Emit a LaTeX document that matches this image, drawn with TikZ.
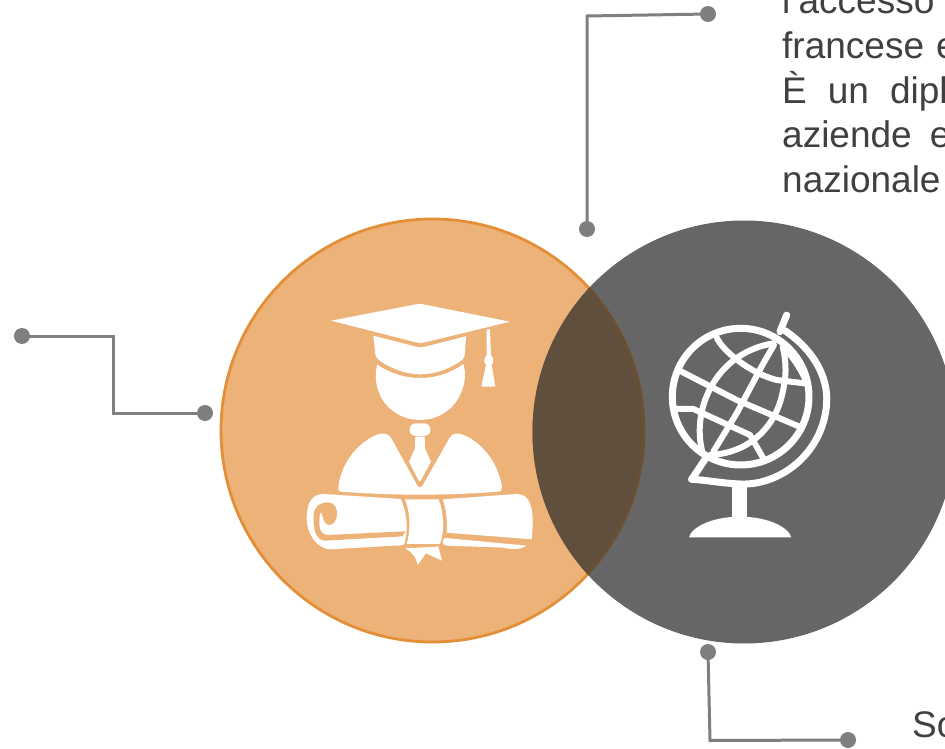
\documentclass[tikz,border=0pt]{standalone}
\usepackage{fontspec}
\setmainfont{Liberation Sans}
\definecolor{orangefill}{HTML}{EDB277}
\definecolor{orangeedge}{HTML}{E38F37}
\definecolor{darkfill}{HTML}{666666}
\definecolor{overlapfill}{HTML}{604F3D}
\definecolor{overlapedge}{HTML}{6C4F30}
\definecolor{connector}{HTML}{7F7F7F}
\definecolor{bodytext}{HTML}{404040}
\tikzset{
  dotnode/.style={circle,fill=connector,draw=none,minimum size=16pt,inner sep=0pt},
  conn/.style={draw=connector,line width=3pt,line join=miter},
  para/.style={anchor=base west,inner sep=0pt,text=bodytext,font=\fontsize{37}{44}\selectfont},
  whitefill/.style={fill=white,draw=none},
  orangecut/.style={fill=orangefill,draw=none},
  globeline/.style={draw=white,line width=6pt,line cap=round,line join=round},
}
\begin{document}
\begin{tikzpicture}[x=1pt,y=-1pt]
\useasboundingbox (0,0) rectangle (945,749);
\clip (0,0) rectangle (945,749);
\fill[white] (0,0) rectangle (945,749);

% circles
\coordinate (oc) at (432.5,430.5);
\coordinate (gc) at (744,432);
\fill[orangefill] (oc) circle (211.5);
\draw[orangeedge,line width=2.8pt] (oc) circle (211.5);
\fill[darkfill] (gc) circle (211.5);
\begin{scope}
  \clip (gc) circle (211.5);
  \fill[overlapfill] (oc) circle (211.5);
  \draw[overlapedge,line width=2.8pt] (oc) circle (211.5);
\end{scope}

% graduate icon
\begin{scope}[shift={(290,290)},x=0.3333pt,y=-0.3333pt]
  % mortarboard
  \fill[whitefill] (123,92) -- (378,43) .. controls (385,41) and (392,41) .. (400,43) -- (660,95) -- (405,157) .. controls (395,160) and (388,160) .. (378,157) -- cycle;
  % cap band
  \fill[whitefill] (250,137) -- (378,170) .. controls (388,173) and (395,173) .. (405,170) -- (528,139) -- (525,190) .. controls (524,205) and (515,212) .. (505,218) .. controls (470,240) and (430,253) .. (390,253) .. controls (345,253) and (305,235) .. (275,216) .. controls (262,208) and (256,200) .. (255,185) -- cycle;
  % head
  \fill[whitefill] (262,224) .. controls (300,250) and (345,264) .. (390,264) .. controls (440,264) and (485,248) .. (520,222) .. controls (530,250) and (525,290) .. (505,325) .. controls (480,368) and (435,390) .. (390,390) .. controls (345,390) and (300,368) .. (275,325) .. controls (258,295) and (252,255) .. (262,224) -- cycle;
  % tassel
  \fill[whitefill] (590,118) -- (600,118) -- (603,196) .. controls (612,205) and (612,215) .. (605,225) -- (616,290) -- (574,290) -- (588,225) .. controls (581,215) and (581,205) .. (590,196) -- cycle;
  % tie
  \fill[whitefill] (378,400) -- (402,400) .. controls (428,400) and (428,438) .. (402,438) -- (378,438) .. controls (352,438) and (352,400) .. (378,400) -- cycle;
  \fill[whitefill] (376,440) -- (404,440) -- (406,478) -- (423,515) -- (392,572) .. controls (390,575) and (388,575) .. (386,572) -- (357,515) -- (374,478) -- cycle;
  % shoulders
  \fill[whitefill] (145,590) .. controls (155,510) and (215,448) .. (268,432) .. controls (285,428) and (297,432) .. (305,447) -- (380,583) .. controls (386,595) and (394,595) .. (400,583) -- (478,445) .. controls (486,432) and (497,428) .. (512,432) .. controls (570,450) and (625,515) .. (636,592) .. controls (637,600) and (632,604) .. (625,605) .. controls (470,617) and (310,617) .. (152,605) .. controls (146,604) and (143,598) .. (145,590) -- cycle;
  % left part of the scroll
  \fill[whitefill] (100,612) -- (332,627) .. controls (352,670) and (355,720) .. (343,762) .. controls (335,768) and (325,767) .. (310,767) -- (125,778) .. controls (85,780) and (50,735) .. (50,685) .. controls (50,640) and (65,612) .. (100,612) -- cycle;
  \fill[orangecut] (338,739) -- (105,752) .. controls (75,750) and (70,715) .. (71,675) .. controls (72,650) and (90,637) .. (115,637) .. controls (135,637) and (143,660) .. (141,675) .. controls (139,695) and (128,705) .. (118,705) .. controls (105,705) and (99,690) .. (96,670) -- (90,670) .. controls (86,700) and (84,735) .. (115,735) -- (346,724) -- cycle;
  % ribbon round the scroll
  \fill[whitefill] (345,628) .. controls (362,670) and (362,725) .. (350,762) -- (450,762) .. controls (464,725) and (462,670) .. (446,628) -- cycle;
  % right part of the scroll
  \fill[whitefill] (458,628) -- (680,612) .. controls (720,612) and (735,650) .. (725,748) -- (470,728) .. controls (472,695) and (470,660) .. (458,628) -- cycle;
  \fill[whitefill] (465,744) -- (710,767) .. controls (695,778) and (665,780) .. (640,773) -- (470,767) .. controls (455,765) and (455,750) .. (465,744) -- cycle;
  % ribbon tails
  \fill[whitefill] (345,775) -- (445,770) -- (456,812) -- (408,790) -- (383,825) .. controls (378,800) and (365,785) .. (345,775) -- cycle;
\end{scope}

% globe icon
\begin{scope}[shift={(650,300)},x=0.3333pt,y=-0.3333pt]
  % sphere outline
  \draw[globeline,line width=7pt] (272,290) circle[x radius=205,y radius=205];
  \begin{scope}
    \clip (272,290) circle[x radius=208,y radius=208];
    \draw[globeline] (200,112) .. controls (215,150) and (300,220) .. (380,240) -- (480,252);
    \draw[globeline] (85,210) -- (260,300) -- (460,385);
    \draw[globeline] (70,327) -- (130,327) -- (300,405) -- (340,475);
    \draw[globeline] (160,465) .. controls (120,340) and (190,160) .. (370,130);
    \draw[globeline] (190,455) -- (260,340) -- (340,190) -- (372,135);
    \draw[globeline] (180,465) .. controls (290,460) and (370,390) .. (395,290) .. controls (410,230) and (410,190) .. (398,140);
    \draw[globeline] (400,140) .. controls (455,200) and (490,270) .. (480,330);
  \end{scope}
  % meridian arm
  \draw[globeline,line width=7pt] (410,45) -- (390,95);
  \draw[globeline,line width=7pt] (405,92) .. controls (490,150) and (535,230) .. (530,310) .. controls (520,460) and (390,558) .. (270,552) .. controls (215,550) and (170,540) .. (125,538);
  \draw[globeline,line width=7pt] (165,478) -- (125,538);
  % stand
  \fill[whitefill] (245,558) rectangle (292,660);
  \fill[whitefill] (117,712) .. controls (125,680) and (190,650) .. (270,650) .. controls (350,650) and (415,680) .. (424,712) -- cycle;
\end{scope}

% connectors
\node[dotnode] (topend) at (708,14) {};
\node[dotnode] (topstart) at (587,229) {};
\coordinate (topbend) at (587,16);
\draw[conn] (topend.center) -- (topbend) -- (topstart.center);
\node[dotnode] (leftend) at (22,336) {};
\node[dotnode] (leftstart) at (205,413) {};
\coordinate (leftbendA) at (113.5,336);
\coordinate (leftbendB) at (113.5,413);
\draw[conn] (leftend.center) -- (leftbendA) -- (leftbendB) -- (leftstart.center);
\node[dotnode] (botstart) at (708,652) {};
\node[dotnode] (botend) at (848,740) {};
\coordinate (botbend) at (710,740.5);
\draw[conn] (botstart.center) -- (botbend) -- (botend.center);

% texts, cut by the edge of the picture as in the reference
\node[para] (lineA) at (782,14) {l'accesso};
\node[para] (lineB) at (782,59) {{\spaceskip=12pt francese e}};
\node[para] (lineC) at (782,103.5) {{\spaceskip=21pt È un dipl}};
\node[para] (lineD) at (782,148) {{\spaceskip=18pt aziende e}};
\node[para] (lineE) at (782,192.5) {nazionale};
\node[para] (lineF) at (912,737) {So};
\end{tikzpicture}
\end{document}
